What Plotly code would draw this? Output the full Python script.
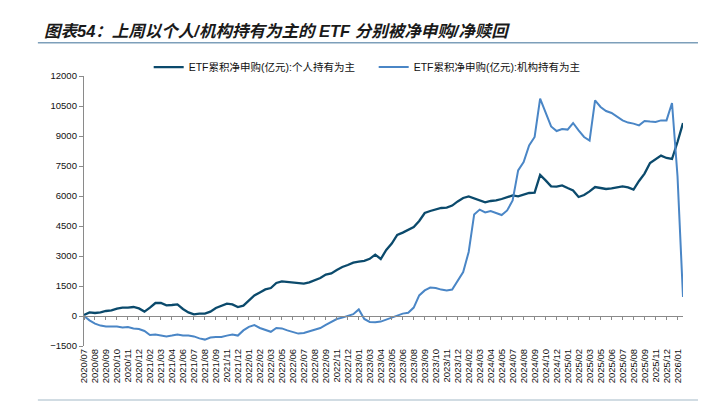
import numpy as np
import plotly.graph_objects as go

# X-axis category labels (one every few trading days, as in the source)
tick_labels = [
    "2020/07", "2020/08", "2020/09", "2020/10", "2020/11", "2020/12",
    "2021/02", "2021/03", "2021/04", "2021/06", "2021/07", "2021/08", "2021/09", "2021/11", "2021/12",
    "2022/01", "2022/02", "2022/03", "2022/05", "2022/06", "2022/07", "2022/08", "2022/09", "2022/11", "2022/12",
    "2023/01", "2023/03", "2023/04", "2023/05", "2023/06", "2023/08", "2023/09", "2023/10", "2023/11", "2023/12",
    "2024/02", "2024/03", "2024/04", "2024/05", "2024/07", "2024/08", "2024/09", "2024/10", "2024/12",
    "2025/01", "2025/02", "2025/03", "2025/05", "2025/06", "2025/07", "2025/08", "2025/09", "2025/11", "2025/12",
    "2026/01",
]

# samples per label interval
POINTS_PER_LABEL = 2

# ETF cumulative net subscription (100m CNY): mainly held by individuals
individual = [
    50, 180, 150, 180, 250, 280, 370, 420, 420, 450,
    380, 220, 420, 650, 650, 530, 550, 580, 350, 180,
    80, 120, 120, 220, 400, 530, 620, 580, 450, 520,
    780, 1030, 1180, 1330, 1400, 1650, 1730, 1710, 1690, 1650,
    1620, 1680, 1780, 1900, 2070, 2130, 2300, 2450, 2550, 2670,
    2720, 2760, 2860, 3070, 2850, 3300, 3620, 4050, 4170, 4330,
    4450, 4750, 5150, 5250, 5320, 5400, 5420, 5520, 5730, 5900,
    5980, 5880, 5750, 5680, 5750, 5780, 5850, 5950, 6030, 5980,
    6070, 6150, 6170, 7050, 6780, 6480, 6470, 6530, 6400, 6280,
    5950, 6050, 6230, 6450, 6400, 6350, 6380, 6430, 6480, 6430,
    6320, 6750, 7120, 7650, 7850, 8020, 7900, 7850, 8700, 9650,
]

# ETF cumulative net subscription (100m CNY): mainly held by institutions
institution = [
    0, -220, -380, -480, -520, -530, -530, -580, -550, -620,
    -650, -750, -950, -920, -980, -1020, -980, -920, -980, -980,
    -1020, -1120, -1180, -1080, -1050, -1050, -980, -920, -980, -720,
    -540, -450, -600, -700, -790, -600, -620, -720, -790, -880,
    -850, -770, -710, -600, -440, -300, -150, -80, 20, 90,
    330, -150, -300, -310, -280, -180, -90, 20, 120, 160,
    420, 1030, 1280, 1420, 1400, 1320, 1280, 1320, 1780, 2200,
    3200, 5080, 5320, 5180, 5250, 5150, 5050, 5280, 5780, 7280,
    7700, 8530, 8950, 10870, 10200, 9480, 9250, 9350, 9320, 9650,
    9280, 8950, 8770, 10780, 10450, 10250, 10150, 9980, 9780, 9670,
    9620, 9530, 9750, 9720, 9700, 9780, 9780, 10650, 7000, 950,
]

series_names = [
    "ETF累积净申购(亿元):个人持有为主",
    "ETF累积净申购(亿元):机构持有为主",
]
colors = ["#0b4a6c", "#4a86c6"]

title_text = "图表54：上周以个人/机构持有为主的 ETF 分别被净申购/净赎回"

FONT = "Liberation Sans, Arial, Noto Sans CJK SC, sans-serif"

x_idx = np.arange(len(individual)) / POINTS_PER_LABEL
tick_pos = list(range(len(tick_labels)))
x_max = (len(individual) - 1) / POINTS_PER_LABEL

fig = go.Figure()
for name, vals, col, w in [(series_names[0], individual, colors[0], 2.3),
                           (series_names[1], institution, colors[1], 2.0)]:
    fig.add_trace(go.Scatter(x=x_idx, y=vals, mode="lines", name=name,
                             line=dict(color=col, width=w), hoverinfo="skip"))

# dummy trace so the zero-line axis is rendered
fig.add_trace(go.Scatter(x=[None], y=[None], xaxis="x2", showlegend=False, hoverinfo="skip"))

axis_grey = "#8a8a8a"
fig.update_layout(
    width=715, height=402,
    margin=dict(l=76, r=40, t=68, b=64),
    paper_bgcolor="white", plot_bgcolor="white",
    font=dict(family=FONT, color="#111111"),
    showlegend=True,
    legend=dict(orientation="h", x=0.108, xanchor="left", y=1.033, yanchor="middle",
                font=dict(size=10.5, family=FONT, color="#111111"),
                bgcolor="rgba(0,0,0,0)", itemwidth=30, entrywidth=180, entrywidthmode="pixels"),
    xaxis=dict(range=[0, x_max], tickmode="array", tickvals=tick_pos, ticktext=tick_labels,
               tickangle=-90, tickfont=dict(size=9.5, family=FONT, color="#111111"),
               showline=False, ticks="", showgrid=False, zeroline=False),
    xaxis2=dict(range=[0, x_max], overlaying="x", anchor="free", position=1500 / 13500,
                tickmode="array", tickvals=tick_pos, showticklabels=False,
                ticks="outside", ticklen=3, tickcolor=axis_grey, tickwidth=1,
                showline=True, linecolor=axis_grey, linewidth=1.3, showgrid=False, zeroline=False),
    yaxis=dict(range=[-1500, 12000], tickmode="linear", tick0=-1500, dtick=1500, tickformat="d",
               showline=True, linecolor=axis_grey, linewidth=1.3,
               ticks="outside", ticklen=4, tickcolor=axis_grey,
               tickfont=dict(size=9.5, family=FONT, color="#111111"),
               showgrid=False, zeroline=False),
)

fig.add_annotation(text="<b><i>" + title_text + "</i></b>", xref="paper", yref="paper",
                   x=-0.070, y=1.167, xanchor="left", yanchor="middle", showarrow=False,
                   font=dict(size=16.5, family="Liberation Sans, Noto Sans CJK SC", color="#1a1a1a"))

fig.add_shape(type="line", xref="paper", yref="paper", x0=-0.077, x1=1.025, y0=1.123, y1=1.123,
              line=dict(color="#7d9fba", width=1.5))
fig.add_shape(type="line", xref="paper", yref="paper", x0=-0.077, x1=1.025, y0=-0.2, y1=-0.2,
              line=dict(color="#c2d0da", width=1.5))

fig.write_html("out.html")
